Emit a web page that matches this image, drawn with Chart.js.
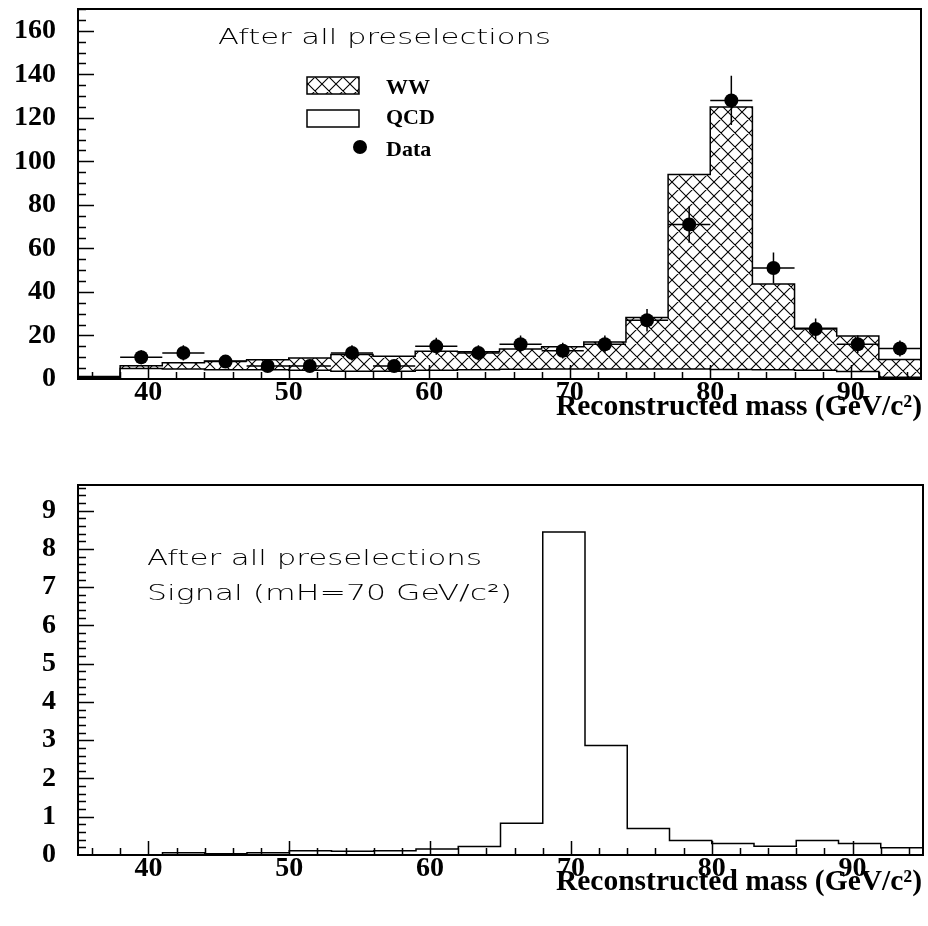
<!DOCTYPE html>
<html>
<head>
<meta charset="utf-8">
<script src="https://cdn.jsdelivr.net/npm/chart.js@4.4.1/dist/chart.umd.min.js"></script>
<style>
  html, body { margin: 0; padding: 0; background: #fff; }
  #page { position: relative; width: 928px; height: 926px; overflow: hidden; }
  canvas { position: absolute; left: 0; }
  #top { top: 0; }
  #bottom { top: 460px; }
  .txt { position: absolute; white-space: nowrap; line-height: 1; color: #000; }
  .note { font-family: "DejaVu Sans", sans-serif; font-weight: 200; font-size: 22px; transform-origin: 0 0; }
  .leg { font-family: "Liberation Serif", serif; font-weight: bold; font-size: 22px; }
  .axt { font-family: "Liberation Serif", serif; font-weight: bold; font-size: 29.5px; }
</style>
</head>
<body>
<div id="page">
  <canvas id="top" width="928" height="460"></canvas>
  <canvas id="bottom" width="928" height="466"></canvas>

  <div class="txt note" data-w="333" style="left:218px; top:26px;">After all preselections</div>
  <div class="txt leg" style="left:386px; top:76px;">WW</div>
  <div class="txt leg" style="left:386px; top:106px;">QCD</div>
  <div class="txt leg" style="left:386px; top:138px;">Data</div>
  <div class="txt axt" style="right:6px; top:391px;">Reconstructed mass (GeV/c²)</div>

  <div class="txt note" data-w="335" style="left:147px; top:547px;">After all preselections</div>
  <div class="txt note" data-w="365" style="left:147px; top:582px;">Signal (mH=70 GeV/c²)</div>
  <div class="txt axt" style="right:6px; top:866px;">Reconstructed mass (GeV/c²)</div>
</div>

<script>
// bin edges (GeV/c^2), 3 GeV bins
let binEdges = [35, 38, 41, 44, 47, 50, 53, 56, 59, 62, 65, 68, 71, 74, 77, 80, 83, 86, 89, 92, 95];

// top panel: stacked MC
let qcdCounts = [0.8, 4.8, 4.6, 4.2, 4.2, 4.0, 3.6, 3.6, 4.0, 4.2, 4.5, 4.6, 4.6, 4.6, 4.6, 4.4, 4.2, 4.0, 3.4, 0.8];
let wwCounts = [0.3, 1.3, 2.9, 4.1, 4.6, 5.7, 7.7, 6.9, 8.8, 8.3, 9.3, 10.2, 12.4, 23.7, 89.4, 120.6, 39.4, 19.3, 16.4, 8.2];

// top panel: data points
let dataMass = [39.5, 42.5, 45.5, 48.5, 51.5, 54.5, 57.5, 60.5, 63.5, 66.5, 69.5, 72.5, 75.5, 78.5, 81.5, 84.5, 87.5, 90.5, 93.5];
let dataCounts = [10, 12, 8, 6, 6, 12, 6, 15, 12, 16, 13, 16, 27, 71, 128, 51, 23, 16, 14];
let dataErr = [3.2, 3.5, 2.8, 2.4, 2.4, 3.5, 2.4, 3.9, 3.5, 4.0, 3.6, 4.0, 5.2, 8.4, 11.3, 7.1, 4.8, 4.0, 3.7];

// bottom panel: signal mH=70
let signalCounts = [0, 0, 0.06, 0.03, 0.06, 0.11, 0.10, 0.11, 0.16, 0.22, 0.83, 8.44, 2.86, 0.69, 0.38, 0.30, 0.23, 0.38, 0.30, 0.19];

let xTicks = [40, 50, 60, 70, 80, 90];
let yTicksTop = [0, 20, 40, 60, 80, 100, 120, 140, 160];
let yTicksBottom = [0, 1, 2, 3, 4, 5, 6, 7, 8, 9];

let tickFont = { family: "Liberation Serif", weight: "bold", size: 28 };

function hatchPattern(ctx) {
  let s = 14;
  let c = document.createElement("canvas");
  c.width = s;
  c.height = s;
  let g = c.getContext("2d");
  g.fillStyle = "#fff";
  g.fillRect(0, 0, s, s);
  g.strokeStyle = "#000";
  g.lineWidth = 1.1;
  g.beginPath();
  [-s, 0, s].forEach((o) => {
    g.moveTo(o - 1, -1);
    g.lineTo(o + s + 1, s + 1);
    g.moveTo(o + s + 1, -1);
    g.lineTo(o - 1, s + 1);
  });
  g.stroke();
  return ctx.createPattern(c, "repeat");
}

// histogram as step points at bin edges
function stepPoints(vals) {
  return binEdges.map((x, i) => ({ x: x, y: vals[Math.min(i, vals.length - 1)] }));
}

function axesPlugin(yMinor, yMajor, yMax) {
  return {
    id: "rootAxes",
    afterDatasetsDraw(chart) {
      let ctx = chart.ctx;
      let a = chart.chartArea;
      let x = chart.scales.x;
      let y = chart.scales.y;
      ctx.save();
      ctx.strokeStyle = "#000";
      ctx.lineWidth = 1.5;
      ctx.beginPath();
      for (let v = 36; v <= 94; v += 2) {
        let px = Math.round(x.getPixelForValue(v)) + 0.5;
        let len = v % 10 === 0 ? 14 : 7;
        ctx.moveTo(px, a.bottom);
        ctx.lineTo(px, a.bottom - len);
      }
      let n = Math.floor(yMax / yMinor + 1e-6);
      for (let k = 1; k <= n; k++) {
        let v = k * yMinor;
        let py = Math.round(y.getPixelForValue(v)) + 0.5;
        let r = v / yMajor;
        let len = Math.abs(r - Math.round(r)) < 1e-6 ? 16 : 8;
        ctx.moveTo(a.left, py);
        ctx.lineTo(a.left + len, py);
      }
      ctx.stroke();
      ctx.lineWidth = 2;
      ctx.strokeRect(a.left, a.top, a.right - a.left, a.bottom - a.top);
      ctx.restore();
    },
  };
}

let errorBars = {
  id: "errorBars",
  afterDatasetsDraw(chart) {
    let ctx = chart.ctx;
    let x = chart.scales.x;
    let y = chart.scales.y;
    ctx.save();
    ctx.strokeStyle = "#000";
    ctx.lineWidth = 1.5;
    ctx.beginPath();
    for (let i = 0; i < dataMass.length; i++) {
      let px = x.getPixelForValue(dataMass[i]);
      let py = y.getPixelForValue(dataCounts[i]);
      ctx.moveTo(x.getPixelForValue(dataMass[i] - 1.5), py);
      ctx.lineTo(x.getPixelForValue(dataMass[i] + 1.5), py);
      ctx.moveTo(px, y.getPixelForValue(dataCounts[i] - dataErr[i]));
      ctx.lineTo(px, y.getPixelForValue(dataCounts[i] + dataErr[i]));
    }
    ctx.stroke();
    ctx.restore();
  },
};

let legendBoxes = {
  id: "legendBoxes",
  afterDraw(chart) {
    let ctx = chart.ctx;
    ctx.save();
    ctx.lineWidth = 1.5;
    ctx.strokeStyle = "#000";
    ctx.fillStyle = hatchPattern(ctx);
    ctx.fillRect(307, 77, 52, 17);
    ctx.strokeRect(307, 77, 52, 17);
    ctx.fillStyle = "#fff";
    ctx.fillRect(307, 110, 52, 17);
    ctx.strokeRect(307, 110, 52, 17);
    ctx.fillStyle = "#000";
    ctx.beginPath();
    ctx.arc(360, 147, 7, 0, Math.PI * 2);
    ctx.fill();
    ctx.restore();
  },
};

function scales(yMax, yTicks, xHeight) {
  return {
    x: {
      type: "linear",
      min: 35,
      max: 95,
      afterBuildTicks: (s) => {
        s.ticks = xTicks.map((v) => ({ value: v }));
      },
      afterFit: (s) => {
        s.height = xHeight;
        s.paddingLeft = 0;
        s.paddingRight = 0;
      },
      grid: { display: false, drawTicks: false },
      border: { display: false },
      ticks: { font: tickFont, color: "#000", padding: -3, maxRotation: 0, autoSkip: false },
    },
    y: {
      type: "linear",
      min: 0,
      max: yMax,
      afterBuildTicks: (s) => {
        s.ticks = yTicks.map((v) => ({ value: v }));
      },
      afterFit: (s) => {
        s.width = 78;
        s.paddingTop = 0;
        s.paddingBottom = 0;
      },
      grid: { display: false, drawTicks: false },
      border: { display: false },
      ticks: { font: tickFont, color: "#000", padding: 22, autoSkip: false },
    },
  };
}

let topCtx = document.getElementById("top").getContext("2d");
let stackTotal = wwCounts.map((v, i) => v + qcdCounts[i]);

new Chart(topCtx, {
  type: "line",
  data: {
    datasets: [
      {
        label: "WW",
        data: stepPoints(stackTotal),
        stepped: "before",
        borderColor: "#000",
        borderWidth: 1.5,
        backgroundColor: hatchPattern(topCtx),
        fill: "origin",
        pointRadius: 0,
        order: 3,
      },
      {
        label: "QCD",
        data: stepPoints(qcdCounts),
        stepped: "before",
        borderColor: "#000",
        borderWidth: 1.5,
        backgroundColor: "#fff",
        fill: "origin",
        pointRadius: 0,
        order: 2,
      },
      {
        label: "Data",
        data: dataMass.map((m, i) => ({ x: m, y: dataCounts[i] })),
        showLine: false,
        pointRadius: 7,
        pointBackgroundColor: "#000",
        pointBorderWidth: 0,
        order: 1,
      },
    ],
  },
  options: {
    responsive: false,
    animation: false,
    devicePixelRatio: 1,
    layout: { padding: { top: 9, right: 5, left: 0, bottom: 0 } },
    plugins: { legend: { display: false }, tooltip: { enabled: false } },
    scales: scales(170, yTicksTop, 81),
  },
  plugins: [axesPlugin(5, 20, 170), errorBars, legendBoxes],
});

new Chart(document.getElementById("bottom"), {
  type: "line",
  data: {
    datasets: [
      {
        label: "Signal",
        data: stepPoints(signalCounts),
        stepped: "before",
        borderColor: "#000",
        borderWidth: 1.5,
        fill: false,
        pointRadius: 0,
      },
    ],
  },
  options: {
    responsive: false,
    animation: false,
    devicePixelRatio: 1,
    layout: { padding: { top: 25, right: 5, left: 0, bottom: 0 } },
    plugins: { legend: { display: false }, tooltip: { enabled: false } },
    scales: scales(9.67, yTicksBottom, 71),
  },
  plugins: [axesPlugin(0.2, 1, 9.67)],
});

// stretch the thin annotation text to the width seen in the figure
document.querySelectorAll(".note").forEach((el) => {
  let w = el.getBoundingClientRect().width;
  el.style.transform = "scaleX(" + parseFloat(el.dataset.w) / w + ")";
});
</script>
</body>
</html>
